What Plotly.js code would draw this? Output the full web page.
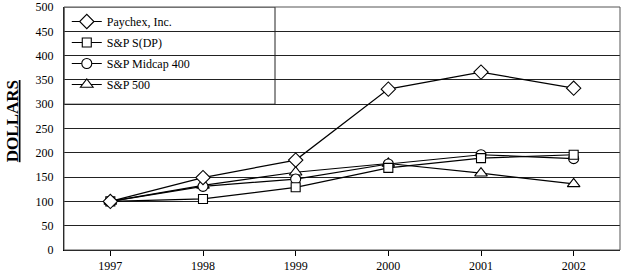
<!DOCTYPE html>
<html><head><meta charset="utf-8">
<script src="https://cdn.plot.ly/plotly-3.0.1.min.js"></script>
<style>html,body{margin:0;padding:0;background:#fff}</style>
</head><body>
<div id="chart" style="width:623px;height:274px"></div>
<script>
const years = [1997, 1998, 1999, 2000, 2001, 2002];
const seriesNames = ["Paychex, Inc.", "S&P S(DP)", "S&P Midcap 400", "S&P 500"];
const paychex = [100, 149, 185, 331, 366, 333];
const spSDP = [100, 105, 129, 169, 189, 196];
const spMidcap = [100, 131, 146, 177, 196, 188];
const sp500 = [100, 133, 160, 178, 158, 136];
const yTicks = [0, 50, 100, 150, 200, 250, 300, 350, 400, 450, 500];

const FONT = "Liberation Serif";
const symbols = ["diamond", "square", "circle", "triangle-up"];
const sizes = [11, 9, 10, 11];
const series = [paychex, spSDP, spMidcap, sp500];
const data = series.map((vals, i) => ({
  x: years, y: vals, name: seriesNames[i], type: "scatter", mode: "lines+markers",
  line: {color: "#000", width: 1.2},
  marker: {symbol: symbols[i], size: sizes[i], color: "#fff", line: {color: "#000", width: 1.1}},
  legendgroup: "g" + i, legendrank: i + 1
})).reverse();

const layout = {
  width: 623, height: 274,
  margin: {l: 64, r: 3, t: 7, b: 24},
  paper_bgcolor: "#fff", plot_bgcolor: "#fff",
  font: {family: FONT, size: 12, color: "#000"},
  showlegend: true,
  legend: {x: 0.005, y: 1.0, xanchor: "left", yanchor: "top", bgcolor: "rgba(0,0,0,0)",
    borderwidth: 0, font: {family: FONT, size: 12, color: "#000"}, tracegroupgap: 2, itemwidth: 30,
    traceorder: "grouped"},
  xaxis: {range: [1996.5, 2002.5], tickvals: years, ticktext: years.map(String),
    tickfont: {family: FONT, size: 12, color: "#000"},
    showgrid: false, zeroline: false, showline: true, linecolor: "#000", linewidth: 1,
    ticks: "outside", ticklen: 5, tickcolor: "#000"},
  yaxis: {range: [0, 500], tickvals: yTicks, ticktext: yTicks.map(String),
    tickfont: {family: FONT, size: 12, color: "#000"},
    showgrid: true, gridcolor: "#222", gridwidth: 1,
    zeroline: false, showline: true, linecolor: "#000", linewidth: 1, ticks: "", ticklabelstandoff: 7},
  annotations: [
    {text: "<b><u>DOLLARS</u></b>", xref: "paper", yref: "paper", x: 0, y: 0.53,
     xanchor: "center", yanchor: "middle", xshift: -52, textangle: -90, showarrow: false,
     font: {family: FONT, size: 17, color: "#000"}}
  ],
  shapes: [
    {type: "rect", xref: "paper", yref: "paper", x0: 0, x1: 1, y0: 0, y1: 1,
     line: {color: "#555", width: 1}, fillcolor: "rgba(0,0,0,0)", layer: "above"},
    {type: "rect", xref: "paper", yref: "y", x0: 0, x1: 211/556, y0: 300, y1: 500,
     line: {color: "#222", width: 1}, fillcolor: "#fff", layer: "below"}
  ]
};
Plotly.newPlot("chart", data, layout, {staticPlot: true});
</script>
</body></html>
